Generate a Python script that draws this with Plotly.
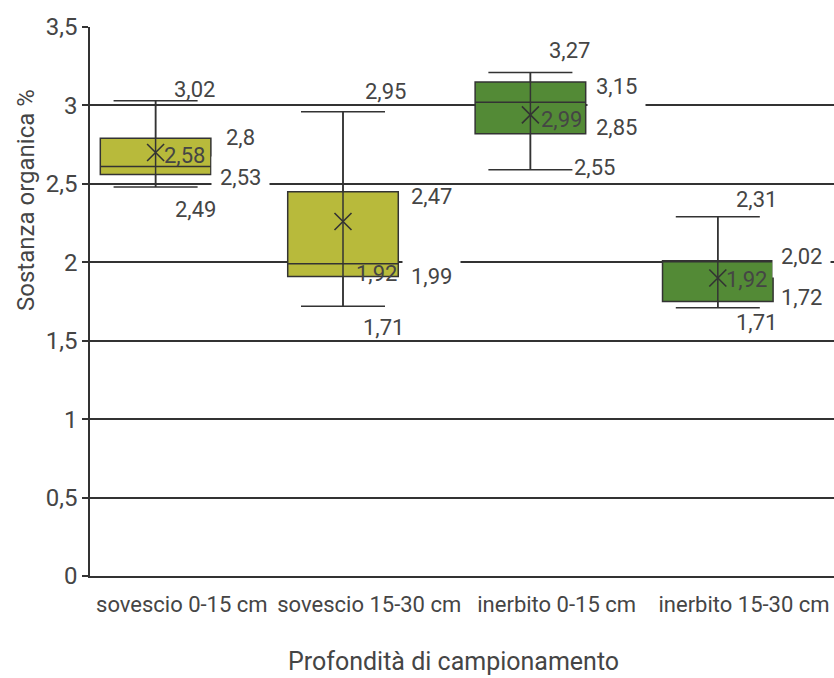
import plotly.graph_objects as go

# ---------------- data ----------------
categories = ["sovescio 0-15 cm", "sovescio 15-30 cm", "inerbito 0-15 cm", "inerbito 15-30 cm"]
groups = ["sovescio", "sovescio", "inerbito", "inerbito"]
whisker_hi = [3.03, 2.96, 3.21, 2.29]
q3_vals = [2.79, 2.45, 3.15, 2.01]
median_vals = [2.61, 1.99, 3.02, 2.01]
q1_vals = [2.56, 1.91, 2.82, 1.75]
whisker_lo = [2.48, 1.72, 2.59, 1.71]
mean_vals = [2.70, 2.26, 2.94, 1.90]

# data labels as printed on the chart
label_hi = ["3,02", "2,95", "3,27", "2,31"]
label_q3 = ["2,8", "2,47", "3,15", "2,02"]
label_mid = ["2,58", "1,92", "2,99", "1,92"]
label_q1 = ["2,53", "1,99", "2,85", "1,72"]
label_lo = ["2,49", "1,71", "2,55", "1,71"]

y_ticks = [0, 0.5, 1, 1.5, 2, 2.5, 3, 3.5]

# ---------------- styling ----------------
FONT = "Roboto, Liberation Sans, Arial, sans-serif"
TXT = "#454545"
LINE = "#333333"
fills = {"sovescio": "#b8ba3b", "inerbito": "#538a36"}
BOX_SHIFT = -0.14   # boxes sit a little left of the category centre
BOX_W = 0.59

pos = [i + BOX_SHIFT for i in range(len(categories))]

fig = go.Figure()

for g in ["sovescio", "inerbito"]:
    idx = [i for i, gg in enumerate(groups) if gg == g]
    fig.add_trace(go.Box(
        x=[pos[i] for i in idx],
        q1=[q1_vals[i] for i in idx],
        median=[median_vals[i] for i in idx],
        q3=[q3_vals[i] for i in idx],
        lowerfence=[whisker_lo[i] for i in idx],
        upperfence=[whisker_hi[i] for i in idx],
        width=BOX_W,
        whiskerwidth=0.76,
        fillcolor=fills[g],
        line=dict(color=LINE, width=1.5),
        boxpoints=False,
        hoverinfo="skip",
        showlegend=False,
    ))

# vertical whisker line running through each box
for i in range(len(categories)):
    fig.add_trace(go.Scatter(
        x=[pos[i], pos[i]], y=[whisker_lo[i], whisker_hi[i]],
        mode="lines", line=dict(color=LINE, width=1.5),
        hoverinfo="skip", showlegend=False,
    ))

# mean markers
fig.add_trace(go.Scatter(
    x=pos, y=mean_vals, mode="markers",
    marker=dict(symbol="x-thin", size=17, line=dict(color=LINE, width=1.6)),
    hoverinfo="skip", showlegend=False,
))

# ---------------- data labels ----------------
stats = {"hi": whisker_hi, "q3": q3_vals, "mean": mean_vals, "q1": q1_vals, "lo": whisker_lo}
# (texts, anchor statistic per category, x shift px, y shift px, white background per category)
label_layout = [
    (label_hi, ["hi", "hi", "hi", "hi"], [39, 42, 39, 39], [11, 20, 22, 17], [0, 0, 0, 0]),
    (label_q3, ["q3", "q3", "q3", "q3"], [85, 88, 86, 84], [1, -5, -5, 4], [0, 0, 1, 1]),
    (label_mid, ["mean", "q1", "mean", "mean"], [29, 33, 31, 29], [-3, 3, -5, -2], [0, 0, 0, 0]),
    (label_q1, ["q1", "q1", "q1", "q1"], [85, 88, 86, 84], [-3, 0, 6, 4], [1, 1, 0, 0]),
    (label_lo, ["lo", "lo", "lo", "lo"], [40, 40, 64, 39], [-23, -21, 2, -15], [0, 0, 0, 0]),
]
for texts, anchors, dxs, dys, bgs in label_layout:
    for i in range(len(categories)):
        fig.add_annotation(
            x=pos[i], y=stats[anchors[i]][i], xref="x", yref="y",
            text=texts[i], showarrow=False,
            xshift=dxs[i], yshift=dys[i],
            xanchor="center", yanchor="middle",
            font=dict(family=FONT, size=22, color=TXT),
            bgcolor="white" if bgs[i] else "rgba(0,0,0,0)",
            borderpad=8 if bgs[i] else 1,
        )

# axis titles
fig.add_annotation(
    text="Sostanza organica %", xref="paper", yref="paper",
    x=-0.086, y=0.685, textangle=-90, showarrow=False,
    xanchor="center", yanchor="middle",
    font=dict(family=FONT, size=24, color=TXT),
)
fig.add_annotation(
    text="Profondità di campionamento", xref="paper", yref="paper",
    x=0.489, y=-0.155, showarrow=False,
    xanchor="center", yanchor="middle",
    font=dict(family=FONT, size=25, color=TXT),
)

fig.update_layout(
    width=834, height=678,
    margin=dict(l=90, r=0, t=27, b=102),
    paper_bgcolor="white", plot_bgcolor="white",
    separators=", ",
    boxmode="overlay",
    showlegend=False,
    xaxis=dict(
        range=[-0.49, 3.48],
        tickmode="array", tickvals=list(range(len(categories))), ticktext=categories,
        showgrid=False, zeroline=False,
        showline=True, linecolor=LINE, linewidth=1.5,
        ticks="", ticklabelstandoff=8, tickangle=0, automargin=False,
        tickfont=dict(family=FONT, size=22, color=TXT),
    ),
    yaxis=dict(
        range=[0, 3.5], tickmode="array", tickvals=y_ticks,
        ticktext=[("%g" % v).replace(".", ",") for v in y_ticks],
        showgrid=True, gridcolor=LINE, gridwidth=1.6,
        zeroline=False, automargin=False,
        showline=True, linecolor=LINE, linewidth=1.6,
        ticks="outside", ticklen=6, tickcolor=LINE, tickwidth=1.5,
        tickfont=dict(family=FONT, size=24, color=TXT),
    ),
)

fig.write_html("out.html")
